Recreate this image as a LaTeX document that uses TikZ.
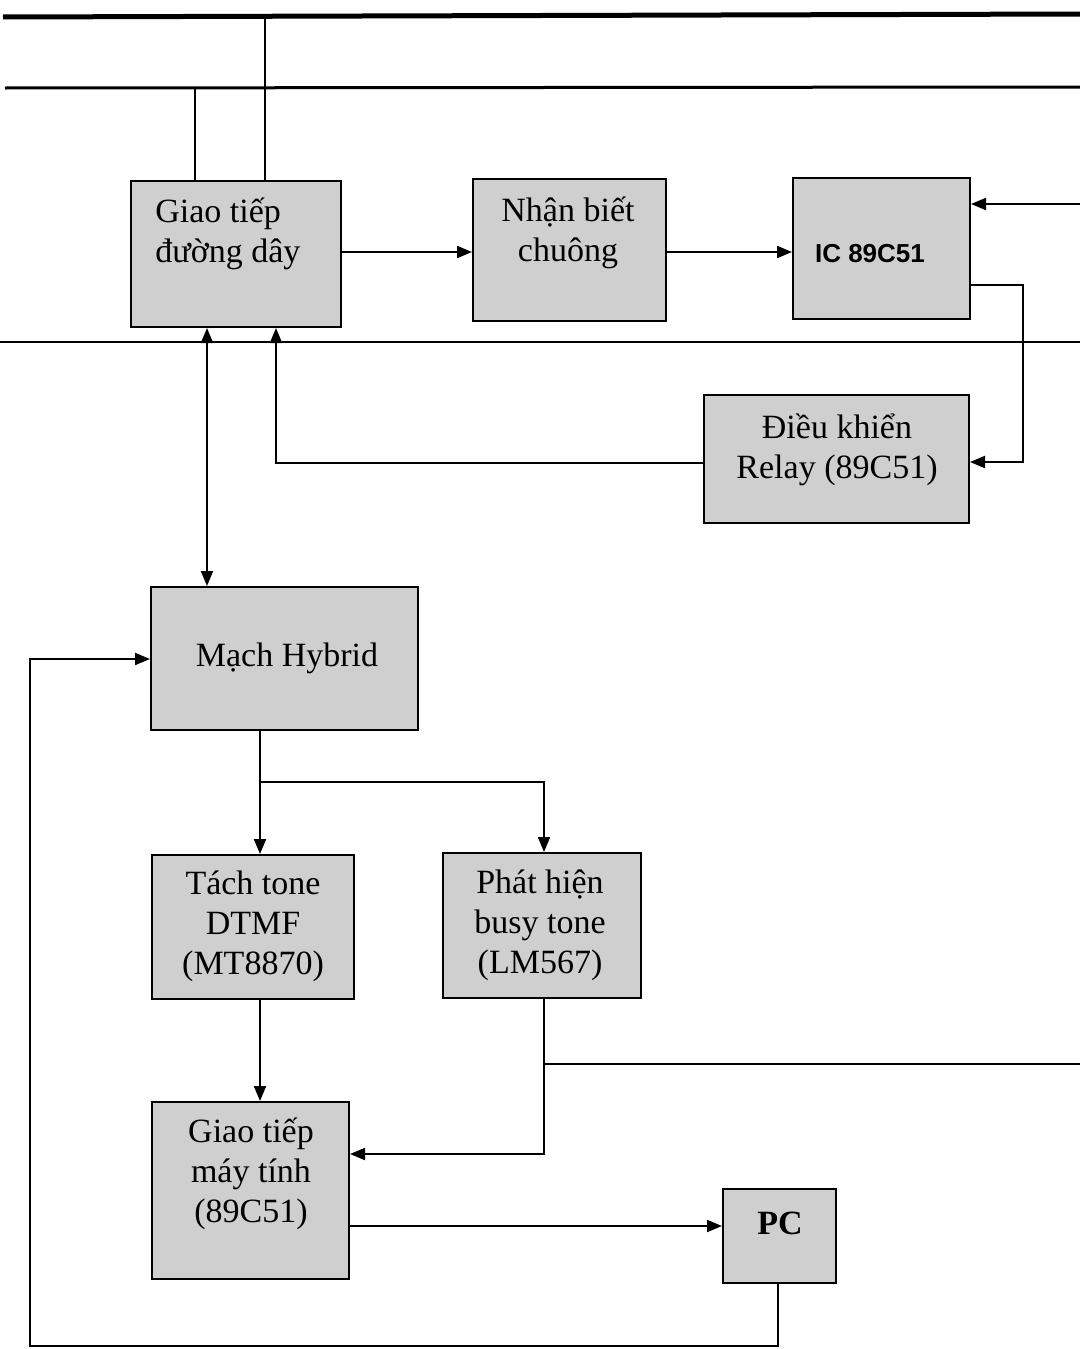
\documentclass[tikz,border=0pt]{standalone}
\usepackage{fontspec}
\setmainfont{Liberation Serif}
\newfontfamily\labelsans{Liberation Sans}
\usetikzlibrary{arrows.meta}
\begin{document}
\begin{tikzpicture}[x=0.5pt,y=-0.5pt,
  blk/.style={draw, line width=1pt, fill=black!19, inner sep=0pt},
  txt/.style={inner sep=0pt, align=center, font=\fontsize{17}{20}\selectfont},
  wire/.style={line width=1pt},
  arr/.style={wire, -{Triangle[length=7.5pt,width=6pt]}},
  darr/.style={wire, {Triangle[length=7.5pt,width=6pt]}-{Triangle[length=7.5pt,width=6pt]}}]
\useasboundingbox (0,0) rectangle (1080,1349);

% line buses
\coordinate (busTL) at (3,17);
\coordinate (busTR) at (1080,14);
\coordinate (busBL) at (5,88);
\coordinate (busBR) at (1080,87);
\coordinate (divL) at (0,342);
\coordinate (divR) at (1080,342);
\draw[line width=2.5pt] (busTL) -- (busTR);
\draw[line width=1.5pt] (busBL) -- (busBR);
\draw[line width=0.8pt] (divL) -- (divR);

% blocks
\node[blk, minimum width=105pt, minimum height=73pt] (line) at (236,254) {};
\node[blk, minimum width=96.5pt, minimum height=71pt] (ring) at (569.5,250) {};
\node[blk, minimum width=88.5pt, minimum height=70.5pt] (mcu) at (881.5,248.5) {};
\node[blk, minimum width=132.5pt, minimum height=64pt] (relay) at (836.5,459) {};
\node[blk, minimum width=133.5pt, minimum height=71.5pt] (hyb) at (284.5,658.5) {};
\node[blk, minimum width=101pt, minimum height=72pt] (dtmf) at (253,927) {};
\node[blk, minimum width=99pt, minimum height=72.5pt] (busy) at (542,925.5) {};
\node[blk, minimum width=98.5pt, minimum height=88.5pt] (comp) at (250.5,1190.5) {};
\node[blk, minimum width=56.5pt, minimum height=47pt] (pc) at (779.5,1236) {};

% block labels
\node[txt, align=left, anchor=west] (lineT) at (155,234) {Giao tiếp\\đường dây};
\node[txt] (ringT) at (568,233) {Nhận biết\\chuông};
\node[txt, font=\labelsans\bfseries\fontsize{13}{16}\selectfont] (mcuT) at (870,254) {IC 89C51};
\node[txt] (relayT) at (837,450) {Điều khiển\\Relay (89C51)};
\node[txt] (hybT) at (287,658) {Mạch Hybrid};
\node[txt] (dtmfT) at (253,926) {Tách tone\\DTMF\\(MT8870)};
\node[txt] (busyT) at (540,925) {Phát hiện\\busy tone\\(LM567)};
\node[txt] (compT) at (251,1174) {Giao tiếp\\máy tính\\(89C51)};
\node[txt, font=\bfseries\fontsize{17}{20}\selectfont] (pcT) at (780,1223) {PC};

% taps from the line to the interface block
\draw[wire] (busBL -| 195,0) -- (line.north -| 195,0);
\draw[wire] (busTL -| 265,0) -- (line.north -| 265,0);

% top row
\draw[arr] (line.east |- 0,252) -- (ring.west |- 0,252);
\draw[arr] (ring.east |- 0,252) -- (mcu.west |- 0,252);
\coordinate (inR) at (1080,204);
\draw[arr] (inR) -- (inR -| mcu.east);

% controller to relay and back to the line interface
\coordinate (mcuR) at (1023,285);
\draw[arr] (mcu.east |- mcuR) -- (mcuR) -- (mcuR |- 0,462) -- (relay.east |- 0,462);
\draw[arr] (relay.west |- 0,463) -| (line.south -| 276,0);

% line interface <-> hybrid
\draw[darr] (line.south -| 207,0) -- (hyb.north -| 207,0);

% hybrid to the detectors
\coordinate (split) at (260,782);
\draw[arr] (hyb.south -| split) -- (dtmf.north -| split);
\draw[arr] (split) -| (busy.north -| 544,0);

% detectors to the computer interface
\draw[arr] (dtmf.south -| 260,0) -- (comp.north -| 260,0);
\coordinate (busyJ) at (544,1154);
\draw[arr] (busy.south -| busyJ) -- (busyJ) -- (comp.east |- busyJ);
\coordinate (outR) at (1080,1064);
\draw[wire] (outR -| busyJ) -- (outR);

% computer interface to PC and return path to the hybrid
\draw[arr] (comp.east |- 0,1226) -- (pc.west |- 0,1226);
\coordinate (loopB) at (778,1346);
\coordinate (loopL) at (30,1346);
\draw[arr] (pc.south -| loopB) -- (loopB) -- (loopL) -- (loopL |- 0,659) -- (hyb.west |- 0,659);
\end{tikzpicture}
\end{document}
